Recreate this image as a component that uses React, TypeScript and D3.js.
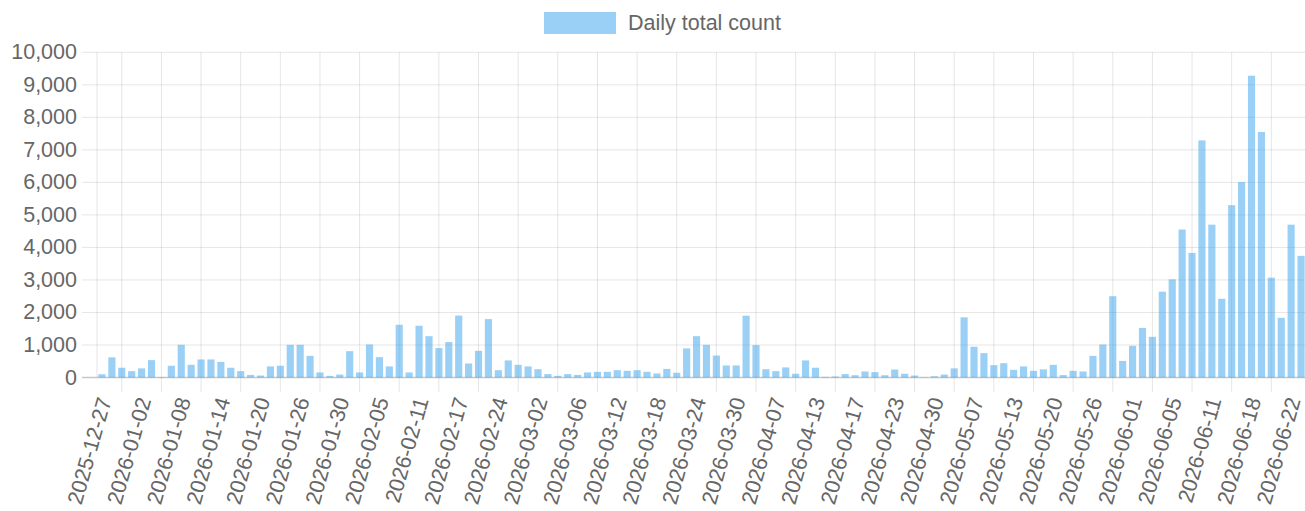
import React from 'react';
import * as d3 from 'd3';

const dates = [
  '2025-12-27', '2025-12-28', '2025-12-30', '2025-12-31',
  '2026-01-02', '2026-01-03', '2026-01-05', '2026-01-06',
  '2026-01-08', '2026-01-09', '2026-01-11', '2026-01-12',
  '2026-01-14', '2026-01-15', '2026-01-17', '2026-01-18',
  '2026-01-20', '2026-01-21', '2026-01-23', '2026-01-24',
  '2026-01-26', '2026-01-27', '2026-01-28', '2026-01-29',
  '2026-01-30', '2026-01-31', '2026-02-02', '2026-02-03',
  '2026-02-05', '2026-02-06', '2026-02-08', '2026-02-09',
  '2026-02-11', '2026-02-12', '2026-02-14', '2026-02-15',
  '2026-02-17', '2026-02-18', '2026-02-20', '2026-02-22',
  '2026-02-24', '2026-02-25', '2026-02-27', '2026-02-28',
  '2026-03-02', '2026-03-03', '2026-03-04', '2026-03-05',
  '2026-03-06', '2026-03-07', '2026-03-09', '2026-03-10',
  '2026-03-12', '2026-03-13', '2026-03-15', '2026-03-16',
  '2026-03-18', '2026-03-19', '2026-03-21', '2026-03-22',
  '2026-03-24', '2026-03-25', '2026-03-27', '2026-03-28',
  '2026-03-30', '2026-03-31', '2026-04-02', '2026-04-05',
  '2026-04-07', '2026-04-08', '2026-04-10', '2026-04-11',
  '2026-04-13', '2026-04-14', '2026-04-15', '2026-04-16',
  '2026-04-17', '2026-04-18', '2026-04-20', '2026-04-21',
  '2026-04-23', '2026-04-24', '2026-04-26', '2026-04-28',
  '2026-04-30', '2026-05-01', '2026-05-03', '2026-05-05',
  '2026-05-07', '2026-05-08', '2026-05-10', '2026-05-11',
  '2026-05-13', '2026-05-14', '2026-05-16', '2026-05-18',
  '2026-05-20', '2026-05-21', '2026-05-23', '2026-05-24',
  '2026-05-26', '2026-05-27', '2026-05-29', '2026-05-30',
  '2026-06-01', '2026-06-02', '2026-06-03', '2026-06-04',
  '2026-06-05', '2026-06-06', '2026-06-08', '2026-06-09',
  '2026-06-11', '2026-06-12', '2026-06-14', '2026-06-16',
  '2026-06-18', '2026-06-19', '2026-06-20', '2026-06-21',
  '2026-06-22', '2026-06-23',
];

const counts = [
  100, 620, 300, 195, 280, 535, 10, 360,
  1005, 390, 555, 555, 480, 300, 195, 80,
  60, 340, 360, 1005, 1005, 665, 155, 50,
  90, 810, 155, 1015, 625, 340, 1620, 155,
  1590, 1270, 905, 1090, 1905, 430, 820, 1795,
  225, 525, 390, 340, 255, 105, 50, 105,
  80, 155, 175, 175, 225, 205, 225, 175,
  125, 265, 145, 895, 1270, 1005, 675, 370,
  370, 1900, 995, 255, 195, 310, 115, 525,
  300, 20, 30, 105, 70, 185, 165, 70,
  245, 115, 60, 10, 40, 90, 280, 1850,
  945, 750, 380, 440, 235, 340, 205, 250,
  390, 75, 205, 185, 665, 1015, 2500, 510,
  975, 1525, 1250, 2640, 3020, 4550, 3830, 7290,
  4700, 2420, 5300, 6010, 9280, 7550, 3070, 1835,
  4700, 3740,
];

const yTicks = [0, 1000, 2000, 3000, 4000, 5000, 6000, 7000, 8000, 9000, 10000];
const seriesName = 'Daily total count';

const WIDTH = 1305;
const HEIGHT = 511;
const LEFT = 97;
const RIGHT = 1306;
const TOP = 52.3;
const BOTTOM = 377.5;
const FONT = '"Liberation Sans", Arial, Helvetica, sans-serif';
const FS = 21.5;
const BAR_FILL = 'rgba(54, 162, 235, 0.5)';
const TEXT = '#666';
const GRID = 'rgba(0, 0, 0, 0.1)';

const App = () => {
  const xScale = d3.scaleBand<string>()
    .domain(dates)
    .range([LEFT, RIGHT])
    .paddingInner(0.28)
    .paddingOuter(0.14);
  const yScale = d3.scaleLinear()
    .domain([0, 10000])
    .range([BOTTOM, TOP]);

  const center = (d: string) => (xScale(d) as number) + xScale.bandwidth() / 2;
  const fmt = d3.format(',');

  // labels every 4th category, grid lines halfway between shown labels
  const shown = dates.filter((_, i) => i % 4 === 0);
  const gridCats = dates.filter((_, i) => i % 4 === 2);

  return (
    <div style={{ position: 'absolute', left: 0, top: 0 }}>
      <svg width={WIDTH} height={HEIGHT} style={{ display: 'block' }}>
        <rect width={WIDTH} height={HEIGHT} fill="#fff" />
        {/* legend */}
        <g>
          <rect x={544} y={12} width={72} height={22} fill={BAR_FILL} />
          <text x={628} y={23} dominantBaseline="central" fontFamily={FONT}
            fontSize={FS} fill={TEXT}>{seriesName}</text>
        </g>
        {/* horizontal grid + y labels */}
        {yTicks.map(t => (
          <g key={t}>
            <line x1={82} x2={RIGHT} y1={yScale(t)} y2={yScale(t)}
              stroke={t === 0 ? 'rgba(0,0,0,0.22)' : GRID}
              strokeWidth={t === 0 ? 1.5 : 1} />
            <text x={77} y={yScale(t)} textAnchor="end" dominantBaseline="central"
              fontFamily={FONT} fontSize={FS} fill={TEXT}>{fmt(t)}</text>
          </g>
        ))}
        {/* vertical grid */}
        <line x1={LEFT} x2={LEFT} y1={TOP} y2={BOTTOM} stroke={GRID} />
        {gridCats.map(d => (
          <line key={d} x1={center(d)} x2={center(d)} y1={TOP} y2={392}
            stroke={GRID} />
        ))}
        {/* bars */}
        {dates.map((d, i) => (
          <rect key={d} x={xScale(d)} width={xScale.bandwidth()}
            y={yScale(counts[i])} height={BOTTOM - yScale(counts[i])}
            fill={BAR_FILL} />
        ))}
        {/* x labels */}
        {shown.map(d => (
          <text key={d} transform={`translate(${center(d) + 3},${398}) rotate(-74)`}
            textAnchor="end" dominantBaseline="central" fontFamily={FONT}
            fontSize={FS} fill={TEXT}>{d}</text>
        ))}
      </svg>
    </div>
  );
};

export default App;
